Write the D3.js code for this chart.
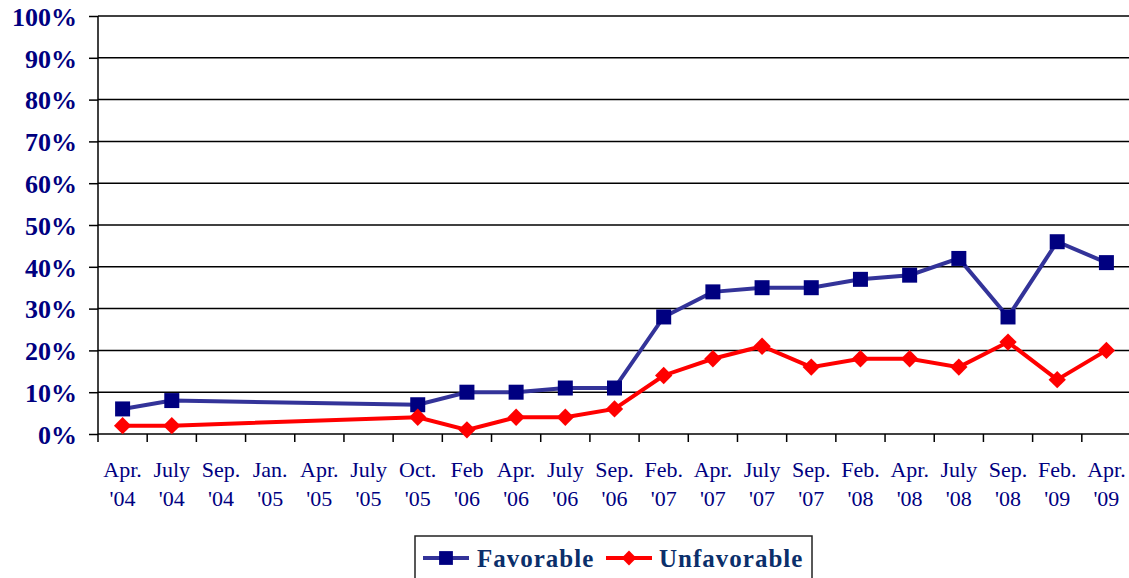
<!DOCTYPE html>
<html>
<head>
<meta charset="utf-8">
<script src="https://cdn.jsdelivr.net/npm/d3@7"></script>
<style>
  body { margin: 0; background: #fff; }
  svg { display: block; }
  text { font-family: 'Liberation Serif', 'Times New Roman', serif; }
</style>
</head>
<body>
<div id="chart-area"></div>
<script>
const months = ["Apr.|'04", "July|'04", "Sep.|'04", "Jan.|'05", "Apr.|'05", "July|'05", "Oct.|'05",
    "Feb|'06", "Apr.|'06", "July|'06", "Sep.|'06", "Feb.|'07", "Apr.|'07", "July|'07", "Sep.|'07",
    "Feb.|'08", "Apr.|'08", "July|'08", "Sep.|'08", "Feb.|'09", "Apr.|'09"];
const favorable = [6, 8, null, null, null, null, 7, 10, 10, 11, 11, 28, 34, 35, 35, 37, 38, 42, 28, 46, 41];
const unfavorable = [2, 2, null, null, null, null, 4, 1, 4, 4, 6, 14, 18, 21, 16, 18, 18, 16, 22, 13, 20];
const yTicks = [0, 10, 20, 30, 40, 50, 60, 70, 80, 90, 100];

const config = {
    width: 1129,
    height: 578,
    margin: { left: 98, right: -2, top: 16, bottom: 144 }
};
config.chartWidth = config.width - config.margin.left - config.margin.right;
config.chartHeight = config.height - config.margin.top - config.margin.bottom;

const serif = "'Liberation Serif', 'Times New Roman', serif";

const svg = d3.select('#chart-area')
    .append('svg')
    .attr("width", config.width)
    .attr("height", config.height)
    .style('background', '#fff');

const g = svg.append('g')
    .attr("transform", `translate(${config.margin.left}, ${config.margin.top})`);

const xScale = d3.scaleBand()
    .domain(months)
    .range([0, config.chartWidth]);

const yScale = d3.scaleLinear()
    .domain([0, 100])
    .range([config.chartHeight, 0]);

// gridlines
g.append('g')
    .selectAll('line')
    .data(yTicks.filter(d => d > 0))
    .enter().append('line')
    .attr('x1', 0)
    .attr('x2', config.chartWidth)
    .attr('y1', d => yScale(d))
    .attr('y2', d => yScale(d))
    .attr('stroke', '#000')
    .attr('stroke-width', 1.5);

// y axis
const yAxisGroup = g.append('g')
    .call(d3.axisLeft(yScale).tickValues(yTicks).tickSize(9).tickPadding(12).tickFormat(d => d + "%"));
yAxisGroup.attr("font-family", serif);
yAxisGroup.selectAll(".domain, .tick line").attr("stroke", "#000").attr("stroke-width", 1.5);
yAxisGroup.select(".domain").attr("d", `M0,0V${config.chartHeight}`);
yAxisGroup.selectAll("text")
    .attr("fill", "#000080")
    .attr("dy", "0.36em")
    .style("font-family", serif)
    .style("font-weight", "bold")
    .style("font-size", "26px");

// x axis
const xAxisGroup = g.append('g')
    .attr('transform', `translate(0, ${config.chartHeight})`)
    .call(d3.axisBottom(xScale).tickSize(0).tickFormat(""));
xAxisGroup.attr("font-family", serif);
xAxisGroup.select(".domain").attr("stroke", "#000").attr("stroke-width", 1.5)
    .attr("d", `M0,0H${config.chartWidth}`);

xAxisGroup.selectAll(".tickmark")
    .data(d3.range(months.length + 1))
    .enter().append("line")
    .attr("class", "tickmark")
    .attr("x1", i => i * xScale.step())
    .attr("x2", i => i * xScale.step())
    .attr("y1", 0)
    .attr("y2", 8)
    .attr("stroke", "#000")
    .attr("stroke-width", 1.5);

const xLabels = xAxisGroup.selectAll(".xlabel")
    .data(months)
    .enter().append("text")
    .attr("class", "xlabel")
    .attr("x", d => xScale(d) + xScale.bandwidth() / 2)
    .attr("text-anchor", "middle")
    .attr("fill", "#000080")
    .style("font-family", serif)
    .style("font-size", "22px");
xLabels.append("tspan").attr("x", d => xScale(d) + xScale.bandwidth() / 2).attr("y", 43).text(d => d.split("|")[0]);
xLabels.append("tspan").attr("x", d => xScale(d) + xScale.bandwidth() / 2).attr("y", 72).text(d => d.split("|")[1]);

// series
const series = [
    { name: "Favorable", values: favorable, line: "#333399", mark: "#000080", rot: 0, size: 225 },
    { name: "Unfavorable", values: unfavorable, line: "#ff0000", mark: "#ff0000", rot: 45, size: 150 }
];

const line = d3.line()
    .x(d => xScale(d.m) + xScale.bandwidth() / 2)
    .y(d => yScale(d.v));

series.forEach(s => {
    const pts = months.map((m, i) => ({ m: m, v: s.values[i] })).filter(d => d.v !== null);
    g.append("path")
        .datum(pts)
        .attr("d", line)
        .attr("fill", "none")
        .attr("stroke", s.line)
        .attr("stroke-width", 4);
    g.selectAll(".pt-" + s.name)
        .data(pts)
        .enter().append("path")
        .attr("class", "pt-" + s.name)
        .attr("transform", d => `translate(${xScale(d.m) + xScale.bandwidth() / 2}, ${yScale(d.v)}) rotate(${s.rot})`)
        .attr("d", d3.symbol().type(d3.symbolSquare).size(s.size))
        .attr("fill", s.mark);
});

// legend
const legend = svg.append("g").attr("transform", "translate(415, 536)");
legend.append("rect")
    .attr("width", 397)
    .attr("height", 60)
    .attr("fill", "#fff")
    .attr("stroke", "#222")
    .attr("stroke-width", 1.5);

const legendItems = [
    { s: series[0], x: 8, tx: 62 },
    { s: series[1], x: 191, tx: 244 }
];
legendItems.forEach(it => {
    const lg = legend.append("g").attr("transform", `translate(${it.x}, 22)`);
    lg.append("line").attr("x1", 0).attr("x2", 46).attr("stroke", it.s.line).attr("stroke-width", 4);
    lg.append("path")
        .attr("transform", `translate(23, 0) rotate(${it.s.rot})`)
        .attr("d", d3.symbol().type(d3.symbolSquare).size(it.s.rot ? 110 : 190))
        .attr("fill", it.s.mark);
    legend.append("text")
        .attr("x", it.tx)
        .attr("y", 31)
        .attr("fill", "#0b2f6b")
        .style("font-family", serif)
        .style("font-weight", "bold")
        .style("font-size", "25px")
        .style("letter-spacing", "1px")
        .text(it.s.name);
});
</script>
</body>
</html>
